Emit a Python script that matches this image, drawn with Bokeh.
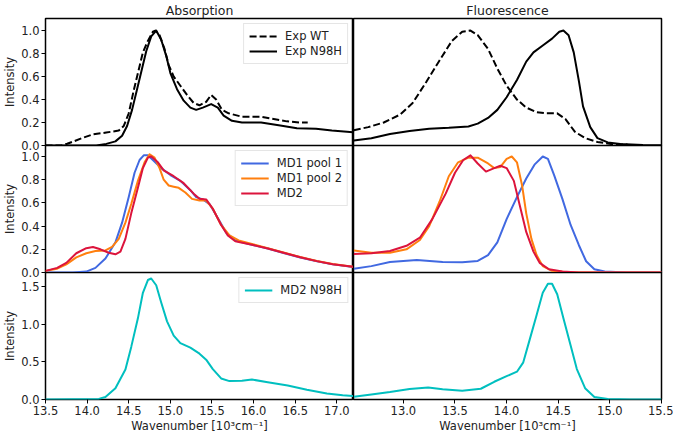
from bokeh.plotting import figure
from bokeh.layouts import column, row
from bokeh.models import Legend, LegendItem, FixedTicker, PrintfTickFormatter, Range1d
from bokeh.embed import file_html
from bokeh.resources import INLINE

# ---------------- data ----------------
# Absorption, experimental
abs_wt_x = [13.5, 13.69, 13.76, 13.84, 13.96, 14.07, 14.23, 14.38, 14.44, 14.5, 14.56, 14.62, 14.67, 14.73, 14.79, 14.82, 14.87, 14.93, 14.98, 15.04, 15.12, 15.2, 15.28, 15.35, 15.43, 15.49, 15.55, 15.62, 15.7, 15.86, 16.09, 16.24, 16.4, 16.55, 16.65]
abs_wt_y = [0.0, 0.0, 0.015, 0.036, 0.07, 0.097, 0.113, 0.13, 0.17, 0.28, 0.48, 0.66, 0.81, 0.91, 0.99, 1.0, 0.96, 0.84, 0.70, 0.60, 0.52, 0.44, 0.37, 0.35, 0.38, 0.44, 0.40, 0.31, 0.28, 0.25, 0.25, 0.23, 0.21, 0.20, 0.20]
abs_n98h_x = [13.5, 14.11, 14.23, 14.34, 14.42, 14.48, 14.54, 14.6, 14.66, 14.71, 14.77, 14.83, 14.89, 14.95, 15.0, 15.08, 15.16, 15.24, 15.31, 15.39, 15.49, 15.57, 15.64, 15.74, 15.86, 16.09, 16.32, 16.52, 16.75, 16.94, 17.2]
abs_n98h_y = [0.0, 0.0, 0.014, 0.036, 0.085, 0.17, 0.31, 0.49, 0.67, 0.82, 0.95, 1.0, 0.92, 0.78, 0.63, 0.49, 0.39, 0.33, 0.31, 0.33, 0.36, 0.33, 0.26, 0.215, 0.20, 0.20, 0.175, 0.15, 0.146, 0.13, 0.115]

# Fluorescence, experimental
flu_wt_x = [12.52, 12.66, 12.81, 12.97, 13.09, 13.22, 13.35, 13.47, 13.57, 13.65, 13.72, 13.82, 13.91, 14.0, 14.1, 14.19, 14.29, 14.38, 14.49, 14.57, 14.66, 14.76, 14.88, 15.01, 15.17]
flu_wt_y = [0.133, 0.16, 0.20, 0.27, 0.37, 0.55, 0.74, 0.91, 0.99, 1.0, 0.96, 0.84, 0.67, 0.52, 0.40, 0.33, 0.29, 0.28, 0.28, 0.23, 0.12, 0.064, 0.03, 0.014, 0.008]
flu_n98h_x = [12.52, 12.69, 12.87, 13.06, 13.25, 13.44, 13.63, 13.72, 13.82, 13.91, 14.0, 14.1, 14.19, 14.26, 14.35, 14.44, 14.51, 14.55, 14.6, 14.65, 14.7, 14.74, 14.81, 14.88, 14.98, 15.1, 15.32, 15.5]
flu_n98h_y = [0.044, 0.063, 0.10, 0.127, 0.146, 0.154, 0.166, 0.19, 0.24, 0.31, 0.42, 0.57, 0.73, 0.81, 0.87, 0.93, 0.99, 1.0, 0.96, 0.81, 0.56, 0.34, 0.16, 0.064, 0.027, 0.014, 0.005, 0.003]

# Absorption, simulations
abs_p1_x = [13.5, 13.83, 13.99, 14.1, 14.22, 14.34, 14.42, 14.5, 14.57, 14.63, 14.68, 14.73, 14.79, 14.89, 15.0, 15.12, 15.24, 15.31, 15.39, 15.47, 15.57, 15.67, 15.78, 15.98, 16.17, 16.37, 16.56, 16.76, 16.95, 17.2]
abs_p1_y = [0.0, 0.0, 0.008, 0.04, 0.12, 0.26, 0.43, 0.65, 0.86, 0.97, 1.01, 1.01, 0.97, 0.90, 0.84, 0.79, 0.71, 0.65, 0.63, 0.59, 0.47, 0.345, 0.276, 0.24, 0.207, 0.166, 0.13, 0.097, 0.07, 0.047]
abs_p2_x = [13.5, 13.64, 13.75, 13.87, 13.99, 14.1, 14.22, 14.3, 14.38, 14.46, 14.53, 14.61, 14.69, 14.75, 14.81, 14.87, 14.92, 14.98, 15.04, 15.1, 15.18, 15.26, 15.35, 15.43, 15.51, 15.61, 15.71, 15.82, 15.98, 16.17, 16.37, 16.56, 16.76, 16.95, 17.2]
abs_p2_y = [0.014, 0.033, 0.07, 0.13, 0.166, 0.185, 0.19, 0.22, 0.29, 0.43, 0.59, 0.79, 0.95, 1.02, 0.99, 0.90, 0.80, 0.75, 0.74, 0.73, 0.69, 0.635, 0.62, 0.62, 0.55, 0.41, 0.32, 0.276, 0.245, 0.21, 0.17, 0.133, 0.10, 0.073, 0.05]
abs_md2_x = [13.5, 13.64, 13.75, 13.87, 13.99, 14.07, 14.16, 14.26, 14.34, 14.4, 14.46, 14.53, 14.61, 14.67, 14.73, 14.77, 14.85, 14.92, 15.04, 15.16, 15.28, 15.35, 15.43, 15.51, 15.61, 15.69, 15.78, 15.98, 16.17, 16.37, 16.56, 16.76, 16.95, 17.2]
abs_md2_y = [0.014, 0.04, 0.083, 0.166, 0.21, 0.22, 0.20, 0.17, 0.157, 0.18, 0.29, 0.51, 0.73, 0.90, 0.99, 1.0, 0.95, 0.88, 0.83, 0.77, 0.68, 0.635, 0.63, 0.55, 0.41, 0.32, 0.27, 0.24, 0.207, 0.168, 0.132, 0.098, 0.072, 0.05]

# Fluorescence, simulations
flu_p1_x = [12.52, 12.69, 12.87, 13.13, 13.38, 13.57, 13.72, 13.82, 13.91, 14.0, 14.1, 14.19, 14.27, 14.35, 14.4, 14.46, 14.54, 14.62, 14.7, 14.77, 14.85, 14.95, 15.17, 15.5]
flu_p1_y = [0.033, 0.055, 0.09, 0.108, 0.09, 0.088, 0.10, 0.15, 0.26, 0.46, 0.65, 0.81, 0.93, 1.0, 0.98, 0.84, 0.635, 0.41, 0.235, 0.097, 0.028, 0.008, 0.0, 0.0]
flu_p2_x = [12.52, 12.69, 12.87, 13.03, 13.16, 13.25, 13.35, 13.44, 13.53, 13.63, 13.72, 13.82, 13.88, 13.94, 14.0, 14.05, 14.1, 14.15, 14.19, 14.24, 14.29, 14.35, 14.44, 14.63, 15.5]
flu_p2_y = [0.19, 0.17, 0.17, 0.2, 0.28, 0.40, 0.61, 0.83, 0.95, 0.99, 0.99, 0.94, 0.90, 0.91, 0.98, 1.0, 0.95, 0.75, 0.51, 0.29, 0.15, 0.055, 0.014, 0.0, 0.0]
flu_md2_x = [12.52, 12.69, 12.87, 13.03, 13.16, 13.28, 13.41, 13.5, 13.58, 13.65, 13.72, 13.8, 13.88, 13.94, 14.0, 14.07, 14.13, 14.19, 14.26, 14.32, 14.41, 14.54, 14.7, 15.5]
flu_md2_y = [0.16, 0.166, 0.185, 0.23, 0.30, 0.46, 0.68, 0.86, 0.97, 1.01, 0.94, 0.87, 0.90, 0.92, 0.90, 0.79, 0.57, 0.35, 0.18, 0.083, 0.028, 0.008, 0.0, 0.0]

# MD2 N98H
abs_n98h_md_x = [13.5, 14.14, 14.22, 14.34, 14.46, 14.53, 14.61, 14.67, 14.73, 14.77, 14.83, 14.89, 14.96, 15.04, 15.12, 15.24, 15.35, 15.43, 15.51, 15.61, 15.71, 15.86, 15.98, 16.17, 16.41, 16.64, 16.88, 17.07, 17.2]
abs_n98h_md_y = [0.0, 0.008, 0.034, 0.15, 0.40, 0.70, 1.08, 1.42, 1.59, 1.61, 1.52, 1.29, 1.04, 0.85, 0.75, 0.69, 0.61, 0.53, 0.405, 0.28, 0.245, 0.25, 0.266, 0.23, 0.185, 0.13, 0.08, 0.055, 0.046]
flu_n98h_md_x = [12.52, 12.69, 12.87, 13.06, 13.24, 13.38, 13.57, 13.75, 13.88, 14.0, 14.1, 14.16, 14.22, 14.29, 14.35, 14.4, 14.44, 14.49, 14.55, 14.62, 14.68, 14.76, 14.85, 14.98, 15.2, 15.5]
flu_n98h_md_y = [0.038, 0.068, 0.10, 0.14, 0.16, 0.135, 0.118, 0.143, 0.236, 0.31, 0.37, 0.49, 0.78, 1.12, 1.42, 1.54, 1.54, 1.40, 1.08, 0.72, 0.405, 0.15, 0.034, 0.008, 0.0, 0.0]

abs_xticks = [13.5, 14.0, 14.5, 15.0, 15.5, 16.0, 16.5, 17.0]
flu_xticks = [13.0, 13.5, 14.0, 14.5, 15.0, 15.5]
yticks_top = [0.0, 0.2, 0.4, 0.6, 0.8, 1.0]
yticks_bottom = [0.0, 0.5, 1.0, 1.5]

ABS_RANGE = (13.5, 17.2)
FLU_RANGE = (12.517, 15.5)

# ---------------- styling ----------------
FONT = "DejaVu Sans"
FW = 308
FH = 127
OV = 7  # overlap between stacked rows so edge tick labels are not clipped
BLUE = "#4169e1"
ORANGE = "#ff7f0e"
RED = "#dc143c"
CYAN = "#00bfbf"
XLABEL = "Wavenumber [10\u00b3cm\u207b\u00b9]"


def make_fig(xr, yr, left, bottom, rowpos, title=None, yticks=None, xticks=None):
    kw = dict(frame_width=FW, frame_height=FH,
              x_range=Range1d(*xr), y_range=Range1d(*yr),
              output_backend="svg", toolbar_location=None,
              min_border=0)
    if title:
        kw["title"] = title
    p = figure(**kw)
    p.min_border_left = 0
    p.min_border_right = 0 if left else 12
    p.min_border_top = 0
    p.min_border_bottom = 0 if rowpos == 2 else OV
    if rowpos > 0:
        p.margin = (-OV, 0, 0, 0)
    p.grid.visible = False
    p.outline_line_color = "black"
    p.outline_line_width = 1.5
    p.background_fill_color = "white"
    p.border_fill_color = "white"
    p.border_fill_alpha = 0.0
    if title:
        p.title.text_font = FONT
        p.title.text_font_size = "12.5px"
        p.title.text_font_style = "normal"
        p.title.align = "center"
        p.title.standoff = 1
        p.title.text_color = "#222222"
    for ax in p.axis:
        ax.axis_line_color = None
        ax.major_tick_line_color = "black"
        ax.major_tick_out = 4
        ax.major_tick_in = 0
        ax.minor_tick_line_color = None
        ax.major_label_text_font = FONT
        ax.major_label_text_font_size = "11.5px"
        ax.major_label_text_color = "#222222"
        ax.major_label_standoff = 2
        ax.axis_label_text_font = FONT
        ax.axis_label_text_font_size = "11.5px"
        ax.axis_label_text_font_style = "normal"
        ax.axis_label_text_color = "#222222"
        ax.axis_label_standoff = 1
    if left:
        p.yaxis.ticker = FixedTicker(ticks=yticks)
        p.yaxis.formatter = PrintfTickFormatter(format="%.1f")
        p.yaxis.axis_label = "Intensity"
    else:
        p.yaxis.visible = False
    if bottom:
        p.xaxis.ticker = FixedTicker(ticks=xticks)
        p.xaxis.formatter = PrintfTickFormatter(format="%.1f")
        p.xaxis.axis_label = XLABEL
    else:
        p.xaxis.visible = False
    return p


def add_legend(p, items):
    leg = Legend(items=items, location="top_right")
    leg.label_text_font = FONT
    leg.label_text_font_size = "11.5px"
    leg.label_text_color = "#222222"
    leg.glyph_width = 28
    leg.glyph_height = 12
    leg.label_standoff = 8
    leg.spacing = 1
    leg.padding = 5
    leg.margin = 5
    leg.border_line_color = "#cccccc"
    leg.border_line_width = 1
    leg.background_fill_alpha = 0.85
    p.add_layout(leg)


LW = 2

# Top row
tl = make_fig(ABS_RANGE, (0, 1.105), True, False, 0, title="Absorption", yticks=yticks_top)
r1 = tl.line(abs_wt_x, abs_wt_y, line_color="black", line_width=LW, line_dash="7 3", line_join="round")
r2 = tl.line(abs_n98h_x, abs_n98h_y, line_color="black", line_width=LW, line_join="round")
add_legend(tl, [LegendItem(label="Exp WT", renderers=[r1]), LegendItem(label="Exp N98H", renderers=[r2])])

tr = make_fig(FLU_RANGE, (0, 1.105), False, False, 0, title="Fluorescence")
tr.line(flu_wt_x, flu_wt_y, line_color="black", line_width=LW, line_dash="7 3", line_join="round")
tr.line(flu_n98h_x, flu_n98h_y, line_color="black", line_width=LW, line_join="round")

# Middle row
ml = make_fig(ABS_RANGE, (0, 1.095), True, False, 1, yticks=yticks_top)
b1 = ml.line(abs_p1_x, abs_p1_y, line_color=BLUE, line_width=LW, line_join="round")
b2 = ml.line(abs_p2_x, abs_p2_y, line_color=ORANGE, line_width=LW, line_join="round")
b3 = ml.line(abs_md2_x, abs_md2_y, line_color=RED, line_width=LW, line_join="round")
add_legend(ml, [LegendItem(label="MD1 pool 1", renderers=[b1]),
                LegendItem(label="MD1 pool 2", renderers=[b2]),
                LegendItem(label="MD2", renderers=[b3])])

mr = make_fig(FLU_RANGE, (0, 1.095), False, False, 1)
mr.line(flu_p1_x, flu_p1_y, line_color=BLUE, line_width=LW, line_join="round")
mr.line(flu_p2_x, flu_p2_y, line_color=ORANGE, line_width=LW, line_join="round")
mr.line(flu_md2_x, flu_md2_y, line_color=RED, line_width=LW, line_join="round")

# Bottom row
bl = make_fig(ABS_RANGE, (0, 1.69), True, True, 2, yticks=yticks_bottom, xticks=abs_xticks)
c1 = bl.line(abs_n98h_md_x, abs_n98h_md_y, line_color=CYAN, line_width=LW, line_join="round")
add_legend(bl, [LegendItem(label="MD2 N98H", renderers=[c1])])

br = make_fig(FLU_RANGE, (0, 1.69), False, True, 2, xticks=flu_xticks)
br.line(flu_n98h_md_x, flu_n98h_md_y, line_color=CYAN, line_width=LW, line_join="round")

layout = column(row(tl, tr), row(ml, mr), row(bl, br))

open("out.html", "w").write(file_html(layout, INLINE))
